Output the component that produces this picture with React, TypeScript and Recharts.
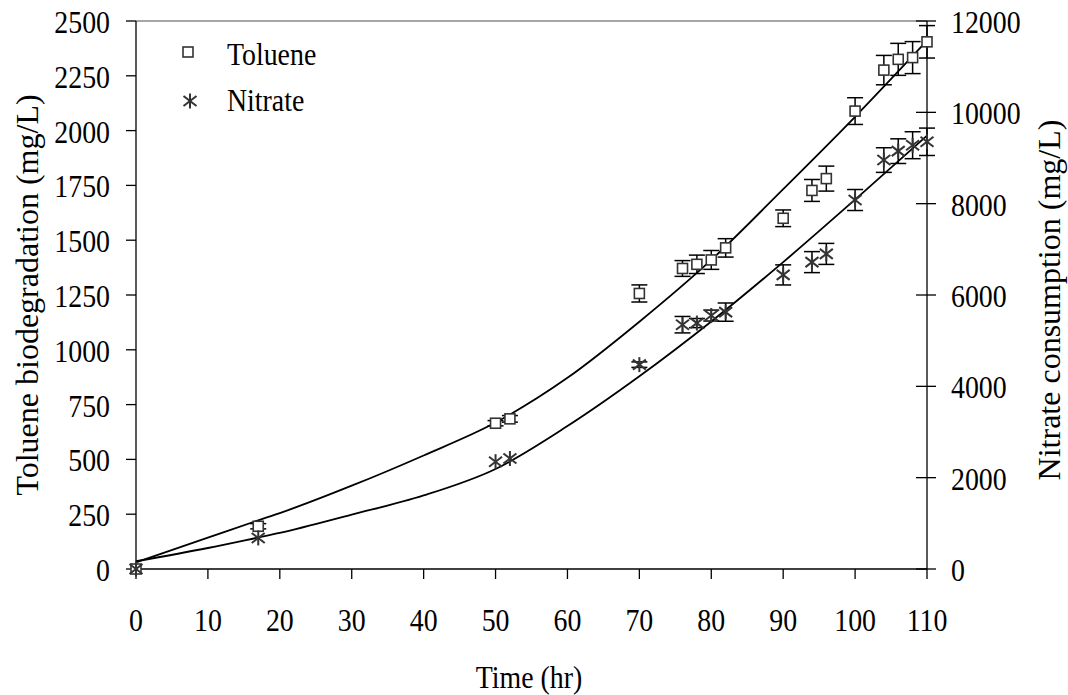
import { ComposedChart, Line, Scatter, XAxis, YAxis, ErrorBar, ReferenceLine, Legend, Label } from "recharts";

const FONT = '"Liberation Serif", "Times New Roman", Times, serif';

// measured samples (hr)
const sampleHours = [0, 17, 50, 52, 70, 76, 78, 80, 82, 90, 94, 96, 100, 104, 106, 108, 110];
const tolueneValues = [0, 195, 665, 685, 1257, 1371, 1390, 1410, 1465, 1600, 1727, 1781, 2089, 2276, 2325, 2333, 2405];
const tolueneErrors = [0, 12, 12, 15, 39, 36, 42, 43, 42, 38, 50, 57, 61, 67, 73, 73, 74];
const nitrateValues = [0, 680, 2350, 2420, 4475, 5350, 5385, 5550, 5625, 6440, 6720, 6900, 8080, 8955, 9150, 9280, 9355];
const nitrateErrors = [0, 0, 0, 0, 60, 180, 100, 120, 200, 220, 230, 230, 230, 270, 270, 295, 300];

// model curves
const fitHours = [0, 10, 17, 20, 30, 40, 50, 60, 70, 80, 90, 100, 110];
const tolueneFit = [30, 143, 222, 255, 380, 518, 668, 872, 1128, 1410, 1733, 2063, 2410];
const nitrateFit = [170, 460, 690, 790, 1190, 1610, 2190, 3130, 4220, 5420, 6720, 8090, 9490];

const timeTicks = [0, 10, 20, 30, 40, 50, 60, 70, 80, 90, 100, 110];
const tolueneTicks = [0, 250, 500, 750, 1000, 1250, 1500, 1750, 2000, 2250, 2500];
const nitrateTicks = [0, 2000, 4000, 6000, 8000, 10000, 12000];

const toluenePoints = sampleHours.map((t, i) => ({ t, toluene: tolueneValues[i], tolueneErr: tolueneErrors[i] }));
const nitratePoints = sampleHours.map((t, i) => ({ t, nitrate: nitrateValues[i], nitrateErr: nitrateErrors[i] }));
const tolueneCurve = fitHours.map((t, i) => ({ t, fit: tolueneFit[i] }));
const nitrateCurve = fitHours.map((t, i) => ({ t, fit: nitrateFit[i] }));

// text in the source is a bit narrow, squeeze it horizontally
const HText = ({ x, y, anchor = "start", children }: any) => (
  <g transform={`translate(${x},${y}) scale(0.87,1)`}>
    <text x={0} y={0} textAnchor={anchor} fontFamily={FONT} fontSize={32} fill="#000">
      {children}
    </text>
  </g>
);

const Square = ({ cx, cy }: any) => (
  <rect x={cx - 5} y={cy - 5} width={10} height={10} fill="#fff" stroke="#333" strokeWidth={1.6} />
);

const Asterisk = ({ cx, cy }: any) => (
  <g stroke="#333" strokeWidth={2}>
    <line x1={cx} y1={cy - 7.5} x2={cx} y2={cy + 7.5} />
    <line x1={cx - 6.5} y1={cy - 5} x2={cx + 6.5} y2={cy + 5} />
    <line x1={cx - 6.5} y1={cy + 5} x2={cx + 6.5} y2={cy - 5} />
  </g>
);

const XTick = ({ x, y, payload }: any) => (
  <HText x={x} y={y + 52} anchor="middle">{payload.value}</HText>
);

const LeftTick = ({ x, y, payload }: any) => (
  <HText x={x - 16} y={y + 12} anchor="end">{payload.value}</HText>
);

const RightTick = ({ x, y, payload }: any) => (
  <g>
    <line x1={x - 11} x2={x + 9} y1={y} y2={y} stroke="#000" strokeWidth={1.3} />
    <HText x={x + 24} y={y + 12} anchor="start">{payload.value}</HText>
  </g>
);

const renderLegend = () => (
  <svg width={220} height={100} style={{ display: "block" }}>
    <Square cx={18} cy={22} />
    <HText x={57} y={35}>Toluene</HText>
    <Asterisk cx={20} cy={71} />
    <HText x={57} y={81}>Nitrate</HText>
  </svg>
);

export default function App() {
  return (
    <div style={{ position: "absolute", left: 0, top: 0, width: 1068, height: 695, background: "#fff" }}>
      <ComposedChart width={1068} height={695} margin={{ top: 21, right: 0, bottom: 0, left: 0 }}>
        <XAxis
          dataKey="t"
          type="number"
          domain={[0, 110]}
          ticks={timeTicks}
          interval={0}
          height={126}
          tickSize={10}
          tickMargin={0}
          tick={XTick}
          axisLine={{ stroke: "#000", strokeWidth: 1.3 }}
          tickLine={{ stroke: "#000", strokeWidth: 1.3 }}
        >
          <Label content={() => <HText x={529} y={688} anchor="middle">Time (hr)</HText>} />
        </XAxis>
        <YAxis
          yAxisId="left"
          orientation="left"
          type="number"
          domain={[0, 2500]}
          ticks={tolueneTicks}
          interval={0}
          width={136}
          tickSize={10}
          tickMargin={0}
          tick={LeftTick}
          axisLine={{ stroke: "#000", strokeWidth: 1.3 }}
          tickLine={{ stroke: "#000", strokeWidth: 1.3 }}
        >
          <Label
            content={() => (
              <text transform="translate(38,295) rotate(-90)" textAnchor="middle" fontFamily={FONT} fontSize={32} fill="#000">
                Toluene biodegradation (mg/L)
              </text>
            )}
          />
        </YAxis>
        <YAxis
          yAxisId="right"
          orientation="right"
          type="number"
          domain={[0, 12000]}
          ticks={nitrateTicks}
          interval={0}
          width={141}
          tickSize={0}
          tickMargin={0}
          tick={RightTick}
          tickLine={false}
          axisLine={{ stroke: "#000", strokeWidth: 1.3 }}
        >
          <Label
            content={() => (
              <text transform="translate(1060,300) rotate(-90)" textAnchor="middle" fontFamily={FONT} fontSize={32} fill="#000">
                Nitrate consumption (mg/L)
              </text>
            )}
          />
        </YAxis>

        <ReferenceLine yAxisId="left" y={2500} stroke="#888" strokeWidth={1.5} />

        <Line yAxisId="left" data={tolueneCurve} dataKey="fit" type="monotone" stroke="#000" strokeWidth={1.8} dot={false} activeDot={false} legendType="none" isAnimationActive={false} />
        <Line yAxisId="right" data={nitrateCurve} dataKey="fit" type="monotone" stroke="#000" strokeWidth={1.8} dot={false} activeDot={false} legendType="none" isAnimationActive={false} />

        <Scatter yAxisId="left" name="Toluene" data={toluenePoints} dataKey="toluene" shape={Square} isAnimationActive={false}>
          <ErrorBar dataKey="tolueneErr" direction="y" width={8} stroke="#000" strokeWidth={1.5} />
        </Scatter>
        <Scatter yAxisId="right" name="Nitrate" data={nitratePoints} dataKey="nitrate" shape={Asterisk} isAnimationActive={false}>
          <ErrorBar dataKey="nitrateErr" direction="y" width={8} stroke="#000" strokeWidth={1.5} />
        </Scatter>

        <Legend
          content={renderLegend}
          layout="vertical"
          align="center"
          verticalAlign="middle"
          wrapperStyle={{ position: "absolute", left: 170, top: 30, width: 220, height: 100 }}
        />
      </ComposedChart>
    </div>
  );
}
